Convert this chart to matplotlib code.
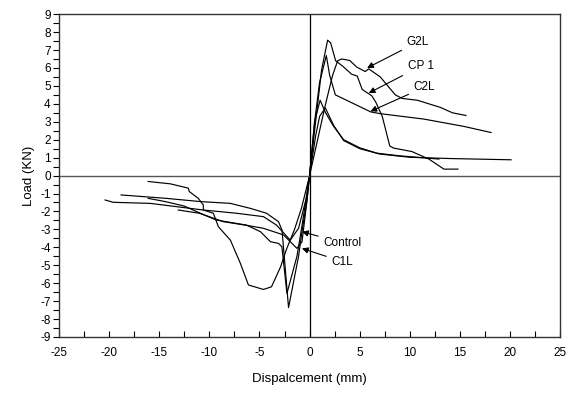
import matplotlib.pyplot as plt
from matplotlib.ticker import MultipleLocator

plt.rcParams['font.family'] = ['Liberation Sans', 'DejaVu Sans']
plt.rcParams['axes.unicode_minus'] = False

# curves, negative branch -> origin -> positive branch
cp1_x = [-16.1, -13.9, -12.1, -12.0, -11.1, -10.6, -10.6, -9.6, -9.1, -7.9, -6.9, -6.1, -4.6, -3.8,
         -2.9, -2.3, -1.5, -0.8, 0, 0.6, 1.2, 1.8, 2.1, 2.6, 3.3, 4.2, 4.75, 5.25, 6.2, 6.6, 7.25,
         8.0, 8.4, 10.2, 11.9, 13.4, 14.8]
cp1_y = [-0.33, -0.46, -0.7, -0.89, -1.27, -1.64, -1.92, -2.1, -2.85, -3.6, -4.9, -6.1, -6.35, -6.2,
         -5.1, -4.1, -3.0, -1.8, 0, 3.0, 5.9, 7.55, 7.4, 6.4, 6.1, 5.65, 5.55, 4.8, 4.45, 4.1, 3.3,
         1.65, 1.53, 1.34, 0.92, 0.36, 0.36]

g2l_x = [-18.8, -14.3, -10.9, -7.9, -5.9, -4.3, -3.1, -2.75, -2.1, -1.1, -0.76, -0.26, 0,
         0.8, 1.6, 2.3, 2.8, 3.2, 4.0, 4.7, 5.55, 5.9, 7.05, 8.55, 9.25, 10.75, 13.05, 14.25, 15.6]
g2l_y = [-1.08, -1.27, -1.45, -1.55, -1.83, -2.1, -2.57, -3.04, -7.36, -4.5, -3.13, -1.36, 0,
         2.0, 4.0, 5.6, 6.4, 6.5, 6.42, 6.05, 5.8, 5.95, 5.5, 4.5, 4.3, 4.2, 3.8, 3.5, 3.35]

c2l_x = [-20.4, -19.6, -15.9, -10.6, -7.3, -4.6, -3.3, -1.93, -1.1, -0.3, 0,
         0.5, 1.0, 1.67, 2.0, 2.57, 6.1, 7.07, 11.4, 15.4, 18.1]
c2l_y = [-1.36, -1.49, -1.55, -1.92, -2.1, -2.29, -2.76, -3.6, -2.94, -1.2, 0,
         3.0, 5.2, 6.69, 5.6, 4.5, 3.55, 3.45, 3.15, 2.74, 2.4]

control_x = [-16.1, -14.4, -12.5, -10.9, -9.3, -6.3, -4.9, -3.9, -3.1, -2.76, -2.26, -1.26, -0.7, 0,
             0.5, 1.05, 1.6, 2.4, 3.4, 5.0, 6.7, 9.0, 12.9]
control_y = [-1.27, -1.45, -1.7, -2.1, -2.48, -2.76, -3.13, -3.69, -3.78, -3.97, -6.57, -4.5, -2.6, 0,
             3.0, 4.2, 3.5, 2.74, 2.0, 1.55, 1.25, 1.1, 0.92]

c1l_x = [-13.1, -11.0, -8.6, -6.0, -4.6, -2.6, -1.26, -0.76, -0.3, 0,
         0.6, 1.0, 1.57, 2.4, 3.4, 5.0, 7.0, 10.0, 14.0, 20.1]
c1l_y = [-1.92, -2.1, -2.57, -2.8, -2.94, -3.31, -4.06, -3.7, -1.6, 0,
         2.2, 3.3, 3.77, 2.8, 1.95, 1.5, 1.2, 1.02, 0.95, 0.88]

labels = ['G2L', 'CP 1', 'C2L', 'Control', 'C1L']
label_xy = [(9.7, 7.45), (9.8, 6.1), (10.4, 4.93), (1.4, -3.75), (2.2, -4.8)]
arrow_tip = [(5.74, 6.0), (5.9, 4.6), (6.07, 3.58), (-0.76, -3.13), (-0.76, -4.06)]

fig = plt.figure(figsize=(5.67, 3.93), dpi=100)
ax = fig.add_axes([0.104, 0.1425, 0.884, 0.8215])

for xs, ys in [(cp1_x, cp1_y), (g2l_x, g2l_y), (c2l_x, c2l_y), (control_x, control_y), (c1l_x, c1l_y)]:
    ax.plot(xs, ys, color='black', lw=0.85)

ax.axhline(0, color='#555555', lw=1.0)
ax.axvline(0, color='black', lw=0.9)

for lab, (tx, ty), (px, py) in zip(labels, label_xy, arrow_tip):
    ax.annotate(lab, xy=(px, py), xytext=(tx, ty), fontsize=8.5, va='center', ha='left',
                arrowprops=dict(arrowstyle='-|>', color='black', lw=0.8, mutation_scale=9,
                                shrinkA=2, shrinkB=0))

ax.set_xlim(-25, 25)
ax.set_ylim(-9, 9)
ax.xaxis.set_major_locator(MultipleLocator(5))
ax.xaxis.set_minor_locator(MultipleLocator(2.5))
ax.yaxis.set_major_locator(MultipleLocator(1))
ax.yaxis.set_minor_locator(MultipleLocator(0.5))
ax.tick_params(axis='x', which='both', direction='in', length=4, width=0.8, labelsize=8.5, pad=7)
ax.tick_params(axis='y', which='both', direction='out', length=4, width=0.8, labelsize=8.5, pad=2)
for s in ax.spines.values():
    s.set_color('#333333')
    s.set_linewidth(1.0)

ax.set_xlabel('Dispalcement (mm)', fontsize=9.5, labelpad=10)
ax.set_ylabel('Load (KN)', fontsize=9.5, labelpad=4)

fig.savefig('out.png', dpi=100)
